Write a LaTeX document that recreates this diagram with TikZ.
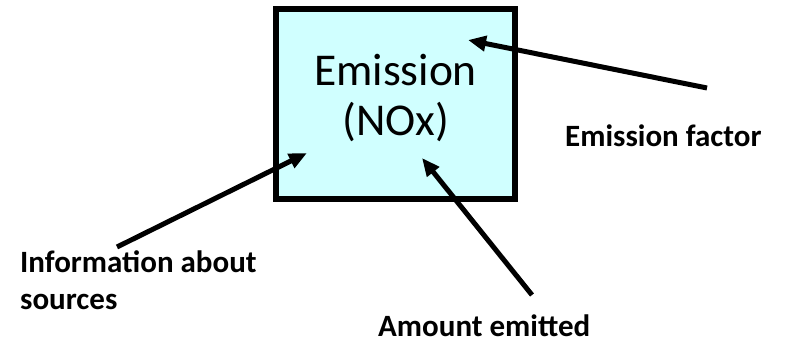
\documentclass[tikz,border=0pt]{standalone}
\usepackage{fontspec}
\setmainfont{Carlito}
\usetikzlibrary{arrows.meta}
\definecolor{boxfill}{RGB}{208,255,255}

\begin{document}
\begin{tikzpicture}[
  x=1pt, y=1pt,
  box/.style  = {draw, line width=6pt, fill=boxfill,
                 minimum width=239pt, minimum height=190pt, inner sep=0pt},
  boxtxt/.style = {align=center, inner sep=0pt,
                 font=\fontsize{45.5}{50}\selectfont},
  lbl/.style  = {anchor=base west, inner sep=0pt, align=left,
                 font=\fontsize{31}{37}\selectfont\bfseries},
  flow/.style = {-{Triangle[length=18pt,width=15pt]}, line width=5pt},
]
\useasboundingbox (0,0) rectangle (785,345);

%% ==== the emission box ====================================================
\node[box] (emis) at (395.5,241) {};
\node[boxtxt] (emisTxt) at ([yshift=6pt]emis.center) {Emission\\(NOx)};

%% ==== labels round it =====================================================
\node[lbl] (fac)  at (565,198) {Emission factor};
\node[lbl] (info) at (20,35)   {Information about\\sources};
\node[lbl] (amt)  at (378,8)   {Amount emitted};

%% ==== arrow ends ==========================================================
\coordinate (facTail)  at (707,257);
\coordinate (facTip)   at (468,305);
\coordinate (infoTail) at (117,98);
\coordinate (infoTip)  at (307,192);
\coordinate (amtTail)  at (532,50);
\coordinate (amtTip)   at (422,187);

%% ==== arrows ==============================================================
\draw[flow] (facTail)  -- (facTip);
\draw[flow] (infoTail) -- (infoTip);
\draw[flow] (amtTail)  -- (amtTip);

\end{tikzpicture}
\end{document}
